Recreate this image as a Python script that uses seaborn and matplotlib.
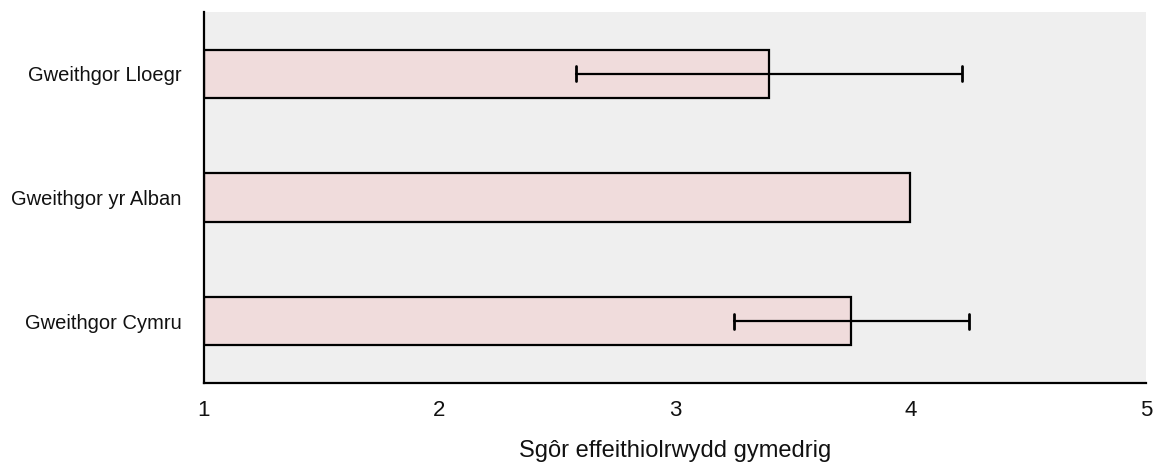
import numpy as np
import pandas as pd
import matplotlib
matplotlib.use("Agg")
import matplotlib.pyplot as plt
import seaborn as sns

# data
categories = ["Gweithgor Lloegr", "Gweithgor yr Alban", "Gweithgor Cymru"]
means = [3.40, 4.00, 3.75]
err_low = [2.58, np.nan, 3.25]
err_high = [4.22, np.nan, 4.25]

BASE = 1

df = pd.DataFrame({"group": categories, "score": [m - BASE for m in means]})

sns.set_style("white")
plt.rcParams["font.family"] = ["Liberation Sans", "DejaVu Sans"]

fig = plt.figure(figsize=(11.55, 4.63), dpi=100)
ax = fig.add_axes([0.1766, 0.1728, 0.8154, 0.8012])
ax.set_facecolor("#efefef")

sns.barplot(data=df, x="score", y="group", orient="h", left=BASE,
            color="#f0dcdc", edgecolor="black", linewidth=1.6,
            width=0.39, ax=ax, errorbar=None, saturation=1)

# error bars
y_pos = np.arange(len(categories))
for y, lo, hi in zip(y_pos, err_low, err_high):
    if np.isnan(lo):
        continue
    ax.plot([lo, hi], [y, y], color="black", lw=1.6, zorder=5)
    for xv in (lo, hi):
        ax.plot([xv, xv], [y - 0.06, y + 0.06], color="black", lw=2, zorder=5)

ax.set_xlim(1, 5)
ax.set_ylim(2.5, -0.5)
ax.set_xticks([1, 2, 3, 4, 5])
ax.tick_params(axis="both", length=0, labelcolor="#111111")
ax.tick_params(axis="x", pad=12, labelsize=16)
ax.tick_params(axis="y", pad=16, labelsize=14.5)
ax.set_ylabel("")
ax.set_xlabel("Sgôr effeithiolrwydd gymedrig", fontsize=17, labelpad=14,
              color="#111111")

for side in ("top", "right"):
    ax.spines[side].set_visible(False)
for side in ("left", "bottom"):
    ax.spines[side].set_color("black")
    ax.spines[side].set_linewidth(1.6)

fig.savefig("out.png", dpi=100)
